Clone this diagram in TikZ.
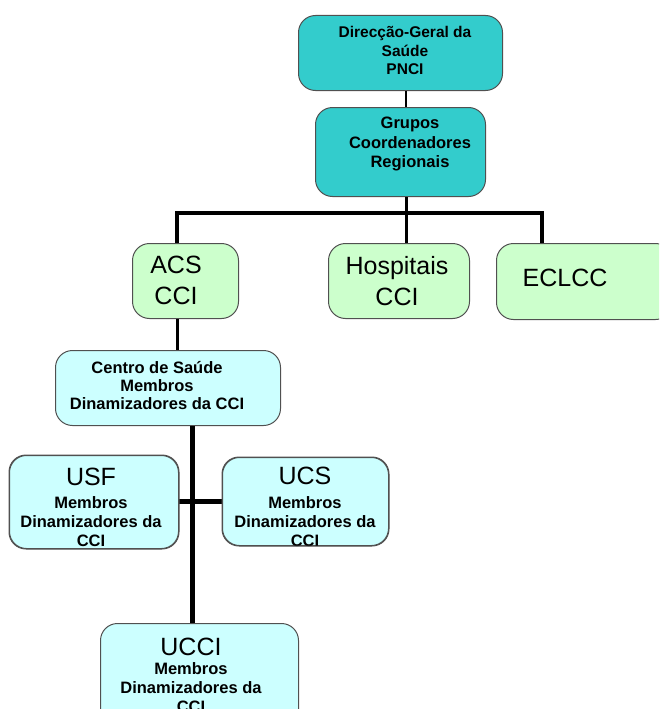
\documentclass[tikz,border=0pt]{standalone}
\usepackage{fontspec}
\setmainfont{Liberation Sans}
\definecolor{teal1}{HTML}{33CCCC}
\definecolor{green1}{HTML}{CCFFCC}
\definecolor{cyan1}{HTML}{CCFFFF}
\definecolor{bord}{HTML}{505050}
\begin{document}
\begin{tikzpicture}[x=1pt,y=-1pt,
  box/.style={draw=bord, line width=1pt, rounded corners=17pt, anchor=north west, inner sep=0pt},
  rim/.style={draw=bord, line width=1pt, rounded corners=17pt},
  txt/.style={anchor=north, align=center, inner sep=0pt, text=black},
  big/.style={font=\fontsize{25}{31}\selectfont},
  small/.style={font=\bfseries\fontsize{16.5}{19}\selectfont},
]
\clip (0,0) rectangle (659,709);
% connector coordinates
\coordinate (bus) at (406,213);
\coordinate (busL) at (177,213);
\coordinate (busR) at (542,213);
\coordinate (spine) at (192,501);
% boxes
\node[box, fill=teal1, minimum width=204pt, minimum height=75pt] (dgs) at (298,15) {};
\node[box, fill=teal1, minimum width=170pt, minimum height=89pt] (gcr) at (315,107) {};
\node[box, fill=green1, minimum width=106pt, minimum height=75pt] (acs) at (132,243) {};
\node[box, fill=green1, minimum width=141pt, minimum height=75pt] (hosp) at (328,243) {};
\node[box, fill=green1, minimum width=176pt, minimum height=76pt] (eclcc) at (496,243) {};
\node[box, fill=cyan1, minimum width=225pt, minimum height=75pt] (centro) at (55,350) {};
\node[box, fill=cyan1, minimum width=169pt, minimum height=93pt] (usf) at (9,455) {};
\node[box, fill=cyan1, minimum width=166pt, minimum height=88pt] (ucs) at (222,457) {};
\node[box, fill=cyan1, minimum width=198pt, minimum height=110pt] (ucci) at (100,623) {};
% connectors
\draw[line width=2.5pt] (dgs.south -| bus) -- (gcr.north -| bus);
\draw[line width=3pt] (gcr.south -| bus) -- (bus);
\draw[line width=3.5pt] (acs.north -| busL) -- (busL) -- (busR) -- (eclcc.north -| busR);
\draw[line width=3pt] (bus) -- (hosp.north -| bus);
\draw[line width=3pt] (acs.south -| busL) -- (centro.north -| busL);
\draw[line width=5pt] (centro.south -| spine) -- (ucci.north -| spine);
\draw[line width=5pt] (usf.east |- spine) -- (ucs.west |- spine);
% texts
\node[txt, font=\bfseries\fontsize{15.5}{18.5}\selectfont] (dgst) at (405,26.3) {Direcção-Geral da\\Saúde\\PNCI};
\node[txt, font=\bfseries\fontsize{16.5}{19.5}\selectfont] (gcrt) at (410,117) {Grupos\\Coordenadores\\Regionais};
\node[txt, big] (acst) at (176,256) {ACS\\CCI};
\node[txt, big] (hospt) at (397,256) {Hospitais\\CCI};
\node[txt, big] (eclcct) at (565,269) {ECLCC};
\node[txt, font=\bfseries\fontsize{16.5}{18}\selectfont] (centrot) at (157,361) {Centro de Saúde\\Membros\\Dinamizadores da CCI};
\begin{scope}
  \clip[rounded corners=17pt] (usf.north west) rectangle (usf.south east);
  \node[txt, big] (usfa) at (91,467.7) {USF};
  \node[txt, small] (usfb) at (91,496) {Membros\\Dinamizadores da\\CCI};
\end{scope}
\draw[rim] (usf.north west) rectangle (usf.south east);
\begin{scope}
  \clip[rounded corners=17pt] (ucs.north west) rectangle (ucs.south east);
  \node[txt, big] (ucsa) at (305,466.8) {UCS};
  \node[txt, small] (ucsb) at (305,496) {Membros\\Dinamizadores da\\CCI};
\end{scope}
\draw[rim] (ucs.north west) rectangle (ucs.south east);
\node[txt, big] (uccia) at (191,637.75) {UCCI};
\node[txt, small] (uccib) at (191,662) {Membros\\Dinamizadores da\\CCI};
\end{tikzpicture}
\end{document}
